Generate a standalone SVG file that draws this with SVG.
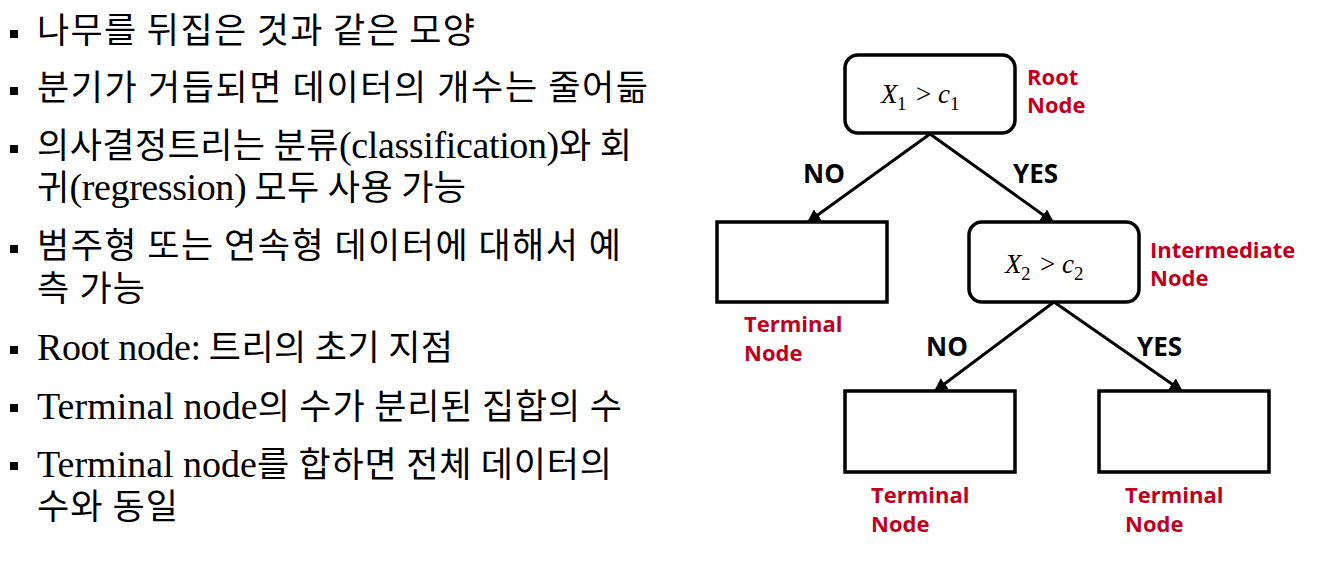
<svg xmlns="http://www.w3.org/2000/svg" width="1327" height="570" viewBox="0 0 1327 570">
<style>
.kr{font-family:"Noto Sans CJK KR","Noto Sans",sans-serif;font-size:35px;fill:#000}
.lt{font-family:"Liberation Serif","Times New Roman",serif;font-size:38px;letter-spacing:-0.8px}
.lbl{font-family:"Open Sans","Noto Sans",sans-serif;font-weight:bold;font-size:26px;fill:#000}
.red{font-family:"Open Sans","Noto Sans",sans-serif;font-weight:bold;font-size:22px;fill:#C00020}
.math{font-family:"Liberation Serif","DejaVu Serif",serif;font-size:27px;font-style:italic;fill:#000}
.sub{font-style:normal;font-size:19px}
.op{font-style:normal}
.box{fill:#fff;stroke:#000;stroke-width:3.5}
.edge{stroke:#000;stroke-width:3;fill:none;marker-end:url(#ah)}
</style>
<defs>
<marker id="ah" viewBox="0 0 10 10" refX="9" refY="5" markerWidth="4.5" markerHeight="4.5" orient="auto" markerUnits="strokeWidth">
<path d="M0,0 L10,5 L0,10 z" fill="#000"/>
</marker>
</defs>
<rect width="1327" height="570" fill="#fff"/>
<g id="bullets" fill="#000">
<rect x="10" y="30" width="8" height="8"/>
<rect x="10" y="87" width="8" height="8"/>
<rect x="10" y="145" width="8" height="8"/>
<rect x="10" y="245" width="8" height="8"/>
<rect x="10" y="346" width="8" height="8"/>
<rect x="10" y="404" width="8" height="8"/>
<rect x="10" y="462" width="8" height="8"/>
</g>
<g id="text-list" class="kr">
<text x="37" y="43" textLength="438" lengthAdjust="spacing">나무를 뒤집은 것과 같은 모양</text>
<text x="37" y="100" textLength="611" lengthAdjust="spacing">분기가 거듭되면 데이터의 개수는 줄어듦</text>
<text x="37" y="158" textLength="595" lengthAdjust="spacing">의사결정트리는 분류<tspan class="lt">(classification)</tspan>와 회</text>
<text x="37" y="200" textLength="429" lengthAdjust="spacing">귀<tspan class="lt">(regression)</tspan> 모두 사용 가능</text>
<text x="37" y="258" textLength="584" lengthAdjust="spacing">범주형 또는 연속형 데이터에 대해서 예</text>
<text x="37" y="301" textLength="108" lengthAdjust="spacing">측 가능</text>
<text x="37" y="360" textLength="416" lengthAdjust="spacing"><tspan class="lt">Root node:</tspan> 트리의 초기 지점</text>
<text x="37" y="419" textLength="585" lengthAdjust="spacing"><tspan class="lt">Terminal node</tspan>의 수가 분리된 집합의 수</text>
<text x="37" y="477" textLength="575" lengthAdjust="spacing"><tspan class="lt">Terminal node</tspan>를 합하면 전체 데이터의</text>
<text x="37" y="519" textLength="141" lengthAdjust="spacing">수와 동일</text>
</g>
<g id="connectors">
<line class="edge" x1="930" y1="134" x2="808" y2="222"/>
<line class="edge" x1="930" y1="134" x2="1053" y2="222"/>
<line class="edge" x1="1054" y1="302" x2="935" y2="391"/>
<line class="edge" x1="1054" y1="302" x2="1182" y2="391"/>
<text class="lbl" x="803" y="183">NO</text>
<text class="lbl" x="1013" y="183">YES</text>
<text class="lbl" x="926" y="356">NO</text>
<text class="lbl" x="1137" y="356">YES</text>
</g>
<g id="root-node">
<rect class="box" x="845" y="55" width="170" height="78" rx="13"/>
<text class="math" y="103"><tspan x="881">X</tspan><tspan class="sub" x="897" y="110">1</tspan><tspan class="op" x="916" y="103">&gt;</tspan><tspan x="938">c</tspan><tspan class="sub" x="950" y="110">1</tspan></text>
<text class="red" x="1027" y="85">Root</text>
<text class="red" x="1027" y="113">Node</text>
</g>
<g id="terminal-left">
<rect class="box" x="717" y="222" width="170" height="80"/>
<text class="red" x="744" y="332">Terminal</text>
<text class="red" x="744" y="361">Node</text>
</g>
<g id="intermediate-node">
<rect class="box" x="969" y="222" width="170" height="80" rx="13"/>
<text class="math" y="273"><tspan x="1005">X</tspan><tspan class="sub" x="1021" y="280">2</tspan><tspan class="op" x="1040" y="273">&gt;</tspan><tspan x="1062">c</tspan><tspan class="sub" x="1074" y="280">2</tspan></text>
<text class="red" x="1150" y="258">Intermediate</text>
<text class="red" x="1150" y="286">Node</text>
</g>
<g id="terminal-bottom-left">
<rect class="box" x="845" y="391" width="170" height="81"/>
<text class="red" x="871" y="503">Terminal</text>
<text class="red" x="871" y="532">Node</text>
</g>
<g id="terminal-bottom-right">
<rect class="box" x="1099" y="391" width="170" height="81"/>
<text class="red" x="1125" y="503">Terminal</text>
<text class="red" x="1125" y="532">Node</text>
</g>
</svg>
